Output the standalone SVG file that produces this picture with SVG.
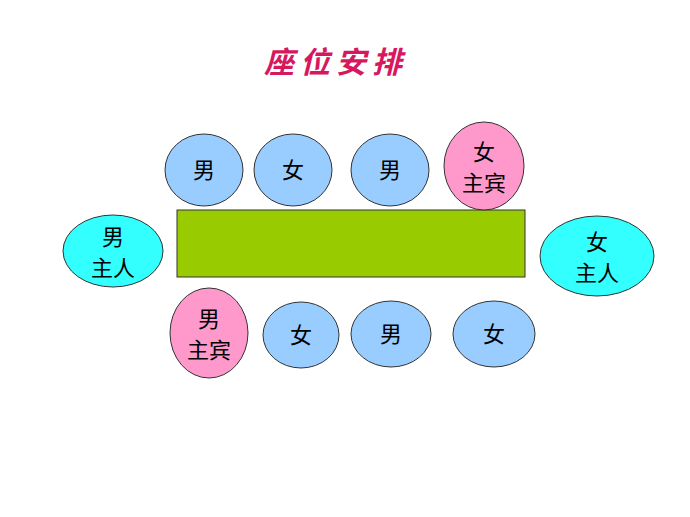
<svg xmlns="http://www.w3.org/2000/svg" width="690" height="517" viewBox="0 0 690 517">
<style>
text{font-family:"Noto Sans CJK SC",sans-serif;font-size:22px;text-anchor:middle;fill:#000}
.b{fill:#99ccff;stroke:#333;stroke-width:1}
.p{fill:#ff99cc;stroke:#333;stroke-width:1}
.c{fill:#33ffff;stroke:#333;stroke-width:1}
.t{font-size:30px;font-weight:bold;font-style:italic;fill:#d6185e;letter-spacing:6px}
</style>
<rect width="690" height="517" fill="#fff"/>
<text class="t" x="336" y="73">座位安排</text>
<g id="table"><rect x="177" y="210" width="348" height="67" fill="#99cc00" stroke="#333"/></g>
<g id="t1"><ellipse class="b" cx="204" cy="170" rx="39" ry="36"/><text x="204" y="178">男</text></g>
<g id="t2"><ellipse class="b" cx="293" cy="170" rx="39" ry="36"/><text x="293" y="178">女</text></g>
<g id="t3"><ellipse class="b" cx="390" cy="170" rx="39" ry="36"/><text x="390" y="178">男</text></g>
<g id="t4"><ellipse class="p" cx="484" cy="166" rx="40" ry="44"/><text x="484" y="160">女</text><text x="484" y="191">主宾</text></g>
<g id="hostM"><ellipse class="c" cx="113" cy="251" rx="50" ry="36"/><text x="113" y="245">男</text><text x="113" y="276">主人</text></g>
<g id="hostF"><ellipse class="c" cx="597" cy="256" rx="57" ry="40"/><text x="597" y="250">女</text><text x="597" y="281">主人</text></g>
<g id="b1"><ellipse class="p" cx="209" cy="333" rx="39" ry="45"/><text x="209" y="327">男</text><text x="209" y="358">主宾</text></g>
<g id="b2"><ellipse class="b" cx="301" cy="335" rx="38" ry="33"/><text x="301" y="343">女</text></g>
<g id="b3"><ellipse class="b" cx="391" cy="334" rx="40" ry="33"/><text x="391" y="342">男</text></g>
<g id="b4"><ellipse class="b" cx="494" cy="334" rx="41" ry="33"/><text x="494" y="342">女</text></g>
<g id="connectors"/>
</svg>
